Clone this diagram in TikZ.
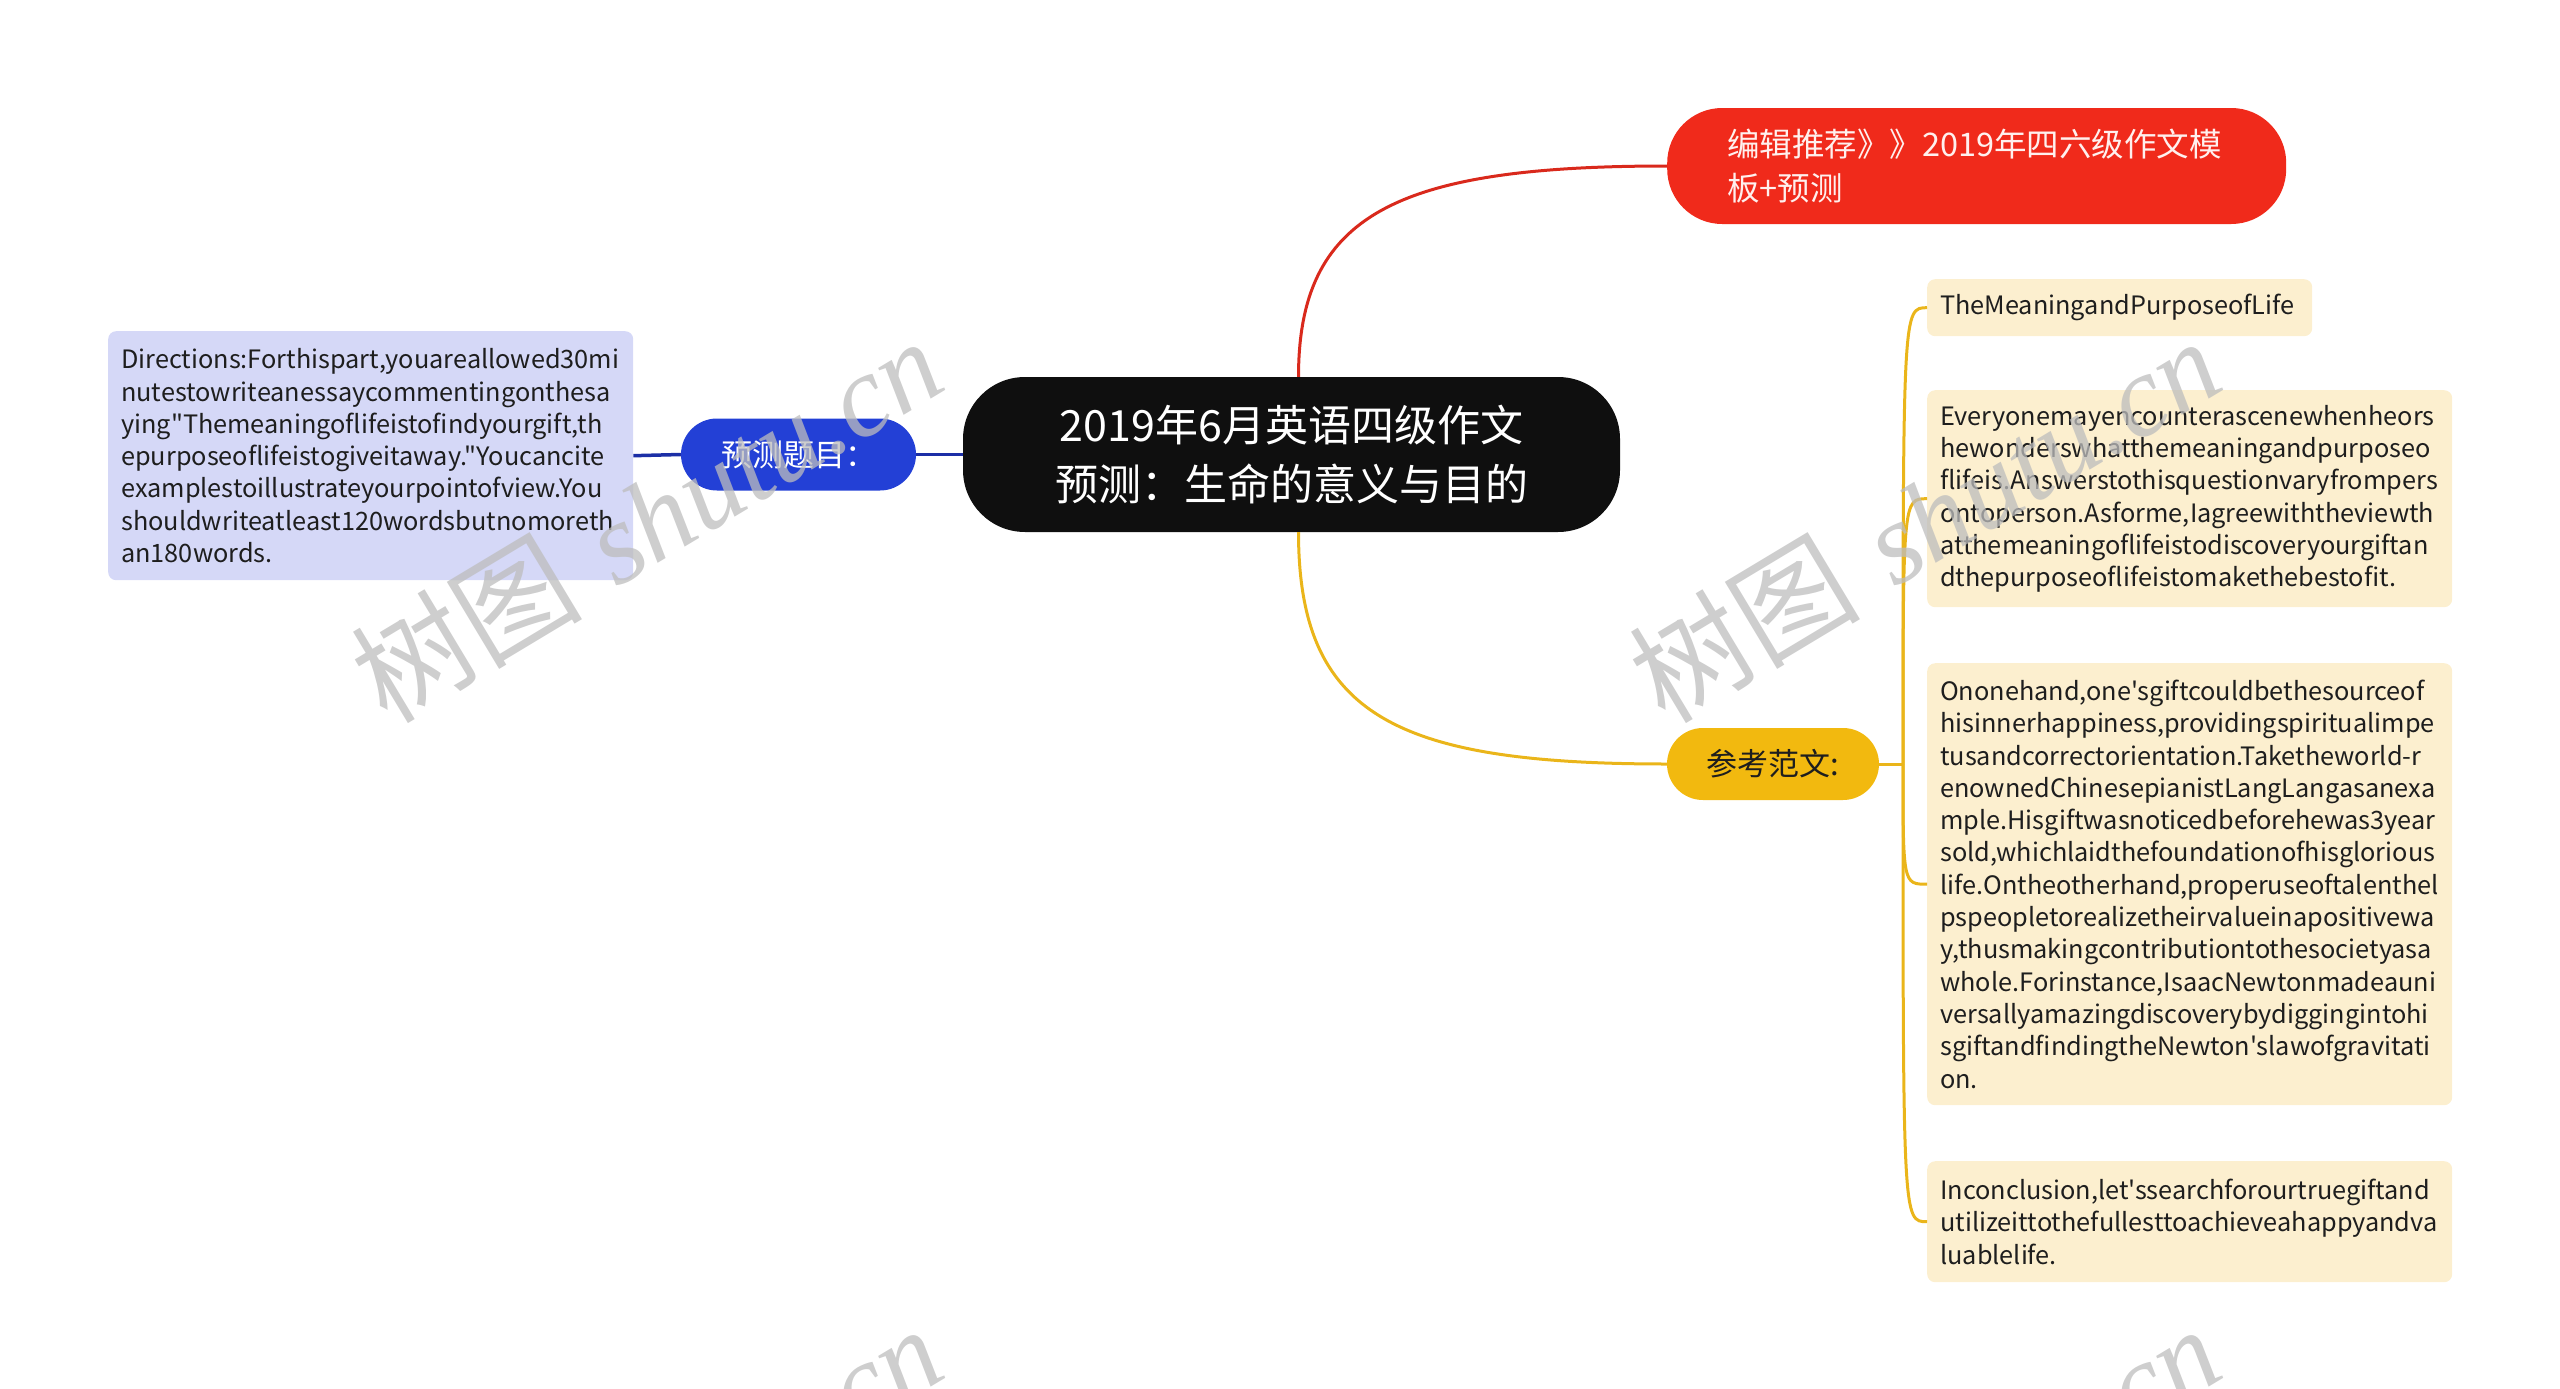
\documentclass[tikz,border=0pt]{standalone}
\usepackage{fontspec}
\newfontfamily\nf{Noto Sans CJK SC}
\newfontfamily\wmserif{Liberation Serif}
\definecolor{hubc}{HTML}{0F0F0F}
\definecolor{redc}{HTML}{F02A1B}
\definecolor{redtxt}{HTML}{FFF0EE}
\definecolor{redline}{HTML}{D9291C}
\definecolor{bluec}{HTML}{2340D6}
\definecolor{blueline}{HTML}{1C2FA6}
\definecolor{lavc}{HTML}{D5D8F7}
\definecolor{yelc}{HTML}{F2B90F}
\definecolor{yelline}{HTML}{EAB51A}
\definecolor{creamc}{HTML}{FCEFCF}
\definecolor{txtc}{HTML}{1E1E1E}
\definecolor{wmc}{HTML}{BDBDBD}
\begin{document}
\begin{tikzpicture}[x=1pt,y=-1pt,
  hub/.style={fill=hubc, rounded corners=62pt, minimum width=657pt, minimum height=155pt,
    align=center, text=white, inner sep=0pt, font=\nf\fontsize{43pt}{59pt}\selectfont},
  rednode/.style={fill=redc, rounded corners=55pt, minimum height=116pt, text width=499pt,
    inner xsep=60pt, inner ysep=0pt, align=left, text=redtxt, font=\nf\fontsize{32.5pt}{44pt}\selectfont},
  pill/.style={rounded corners=36pt, minimum height=72pt, inner sep=0pt, align=center},
  bluenode/.style={pill, fill=bluec, minimum width=235pt, text=white, font=\nf\fontsize{31pt}{36pt}\selectfont},
  yelnode/.style={pill, fill=yelc, minimum width=212pt, text=txtc, font=\nf\fontsize{31pt}{36pt}\selectfont},
  tbox/.style={anchor=north west, rounded corners=8pt, inner xsep=13pt, inner ysep=0pt, align=left,
    text=txtc, font=\nf\fontsize{25.3pt}{32.3pt}\selectfont},
  lavbox/.style={tbox, fill=lavc},
  crbox/.style={tbox, fill=creamc},
  redl/.style={draw=redline, line width=3pt},
  yell/.style={draw=yelline, line width=3pt},
  bluel/.style={draw=blueline, line width=3.5pt},
  wm/.style={text=wmc, opacity=0.75, inner sep=0pt, rotate=31, font=\fontsize{116pt}{116pt}\selectfont}
]
\useasboundingbox (0,0) rectangle (2560,1389);
\clip (0,0) rectangle (2560,1389);

\node[hub] (c) at (1291.5,454.5) {2019年6月英语四级作文\\预测：生命的意义与目的};
\node[rednode, anchor=west] (r) at (1667,166) {编辑推荐》》2019年四六级作文模\\板+预测};
\node[bluenode] (b) at (798.5,454.5) {预测题目：};
\node[yelnode] (y) at (1773,764) {参考范文:};

\node[lavbox, text width=499pt, minimum height=249pt] (q) at (108,331) {Directions:Forthispart,youareallowed30mi\\nutestowriteanessaycommentingonthesa\\ying"Themeaningoflifeistofindyourgift,th\\epurposeoflifeistogiveitaway."Youcancite\\examplestoillustrateyourpointofview.You\\shouldwriteatleast120wordsbutnomoreth\\an180words.};

\node[crbox, text width=359pt, minimum height=57pt] (a1) at (1927,279) {TheMeaningandPurposeofLife};
\node[crbox, text width=499pt, minimum height=217pt] (a2) at (1927,390) {Everyonemayencounterascenewhenheors\\hewonderswhatthemeaningandpurposeo\\flifeis.Answerstothisquestionvaryfrompers\\ontoperson.Asforme,Iagreewiththeviewth\\atthemeaningoflifeistodiscoveryourgiftan\\dthepurposeoflifeistomakethebestofit.};
\node[crbox, text width=499pt, minimum height=442pt] (a3) at (1927,663) {Ononehand,one'sgiftcouldbethesourceof\\hisinnerhappiness,providingspiritualimpe\\tusandcorrectorientation.Taketheworld-r\\enownedChinesepianistLangLangasanexa\\mple.Hisgiftwasnoticedbeforehewas3year\\sold,whichlaidthefoundationofhisglorious\\life.Ontheotherhand,properuseoftalenthel\\pspeopletorealizetheirvalueinapositivewa\\y,thusmakingcontributiontothesocietyasa\\whole.Forinstance,IsaacNewtonmadeauni\\versallyamazingdiscoverybydiggingintohi\\sgiftandfindingtheNewton'slawofgravitati\\on.};
\node[crbox, text width=499pt, minimum height=121pt] (a4) at (1927,1161) {Inconclusion,let'ssearchforourtruegiftand\\utilizeittothefullesttoachieveahappyandva\\luablelife.};

\coordinate (sp) at (1903,764);
\draw[redl] ([xshift=7pt]c.north) .. controls (1298.5,215) and (1395,166) .. (r.west);
\draw[yell] ([xshift=7pt]c.south) .. controls (1298.5,715) and (1395,764) .. (y.west);
\draw[bluel] (q.east) -- (b.west);
\draw[bluel] (b.east) -- (c.west);
\draw[yell] (y.east) -- (sp);
\draw[yell] (sp) .. controls (sp |- a1.west) .. (a1.west);
\draw[yell] (sp) .. controls (sp |- a2.west) .. (a2.west);
\draw[yell] (sp) .. controls (sp |- a3.west) .. (a3.west);
\draw[yell] (sp) .. controls (sp |- a4.west) .. (a4.west);

% watermarks
\foreach \dx/\dy [count=\i] in {0/0, 1278/0, 0/988, 1278/988}
  \node[wm] (wm\i) at (646+\dx,519+\dy) {{\nf 树图} {\wmserif\itshape shutu.cn}};
\end{tikzpicture}
\end{document}
